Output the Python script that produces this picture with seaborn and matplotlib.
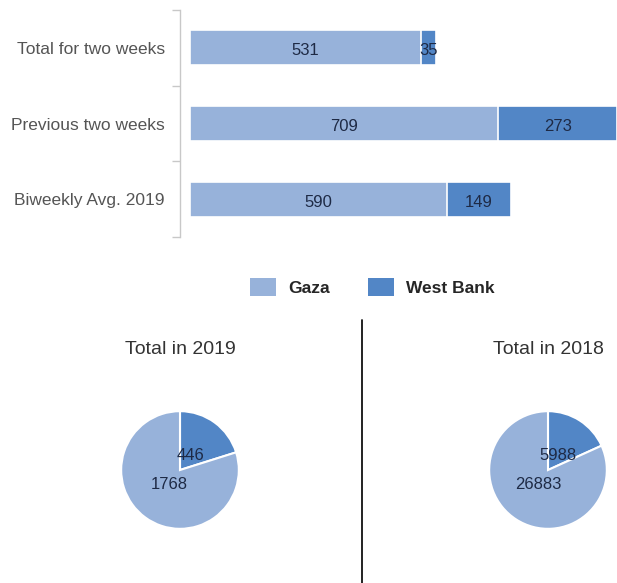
import matplotlib
matplotlib.use("Agg")
import matplotlib.pyplot as plt
import seaborn as sns
import pandas as pd
from matplotlib.patches import Patch
from matplotlib.lines import Line2D

categories = ["Total for two weeks", "Previous two weeks", "Biweekly Avg. 2019"]
gaza = [531, 709, 590]
west_bank = [35, 273, 149]
series_names = ["Gaza", "West Bank"]
pie_titles = ["Total in 2019", "Total in 2018"]
pie_gaza = [1768, 26883]
pie_wb = [446, 5988]

C_GAZA = "#97B2DA"
C_WB = "#5286C6"
TXT = "#1E2A45"

sns.set_theme(style="white")
plt.rcParams["font.family"] = ["Liberation Sans", "DejaVu Sans"]

fig = plt.figure(figsize=(6.17, 5.83), dpi=100)

# ---- stacked bar chart ----
ax = fig.add_axes([190/617, 1-237/583, 427/617, 227/583])
df = pd.DataFrame({"cat": categories, "gaza": gaza, "wb": west_bank})
df["total"] = df["gaza"] + df["wb"]
sns.barplot(data=df, y="cat", x="total", color=C_WB, orient="h", ax=ax,
            width=0.46, edgecolor="white", linewidth=1.2, saturation=1)
sns.barplot(data=df, y="cat", x="gaza", color=C_GAZA, orient="h", ax=ax,
            width=0.46, edgecolor="white", linewidth=1.2, saturation=1)
ax.set_xlim(0, max(df["total"]))
ax.set_ylim(2.5, -0.5)
ax.set_xlabel("")
ax.set_ylabel("")
ax.set_xticks([])
for i, (g, w) in enumerate(zip(gaza, west_bank)):
    ax.text(g/2, i + 0.04, str(g), ha="center", va="center", fontsize=12, color=TXT)
    ax.text(g + w/2, i + 0.04, str(w), ha="center", va="center", fontsize=12, color=TXT)
ax.set_yticks([-0.5, 0.5, 1.5, 2.5])
ax.set_yticklabels([])
ax.set_yticks([0, 1, 2], minor=True)
ax.set_yticklabels(categories, minor=True)
ax.tick_params(axis="y", which="major", length=6, width=1, color="#C8C8C8", left=True)
ax.tick_params(axis="y", which="minor", length=0, pad=11, labelsize=12.5, labelcolor="#555555")
for s in ["top", "right", "bottom"]:
    ax.spines[s].set_visible(False)
ax.spines["left"].set_position(("outward", 7))
ax.spines["left"].set_color("#C8C8C8")
ax.spines["left"].set_linewidth(1)

# ---- legend ----
handles = [Patch(facecolor=C_GAZA, edgecolor="none"), Patch(facecolor=C_WB, edgecolor="none")]
fig.legend(handles, series_names, loc="center", bbox_to_anchor=(372/617, 1-287/583),
           ncol=2, frameon=False, prop={"weight": "bold", "size": 12.5},
           handlelength=1.5, handleheight=1.3, columnspacing=2.2, handletextpad=0.7)

# ---- pies ----
centers = [180, 548]
for cx, title, g, w in zip(centers, pie_titles, pie_gaza, pie_wb):
    pax = fig.add_axes([(cx-60)/617, (583-530)/583, 120/617, 120/583])
    pax.pie([w, g], colors=[C_WB, C_GAZA], startangle=90, counterclock=False,
            labels=[str(w), str(g)], labeldistance=0.3,
            wedgeprops={"edgecolor": "white", "linewidth": 1.5},
            textprops={"fontsize": 12, "color": TXT, "ha": "center", "va": "center"})
    pax.set_xlim(-1.02, 1.02)
    pax.set_ylim(-1.02, 1.02)
    pax.set_aspect("equal")
    fig.text(cx/617, 1-349/583, title, ha="center", va="center", fontsize=14, color="#333333")

fig.add_artist(Line2D([362/617, 362/617], [0, 1-320/583], color="#111111", lw=1.3))

fig.savefig("out.png", dpi=100)
